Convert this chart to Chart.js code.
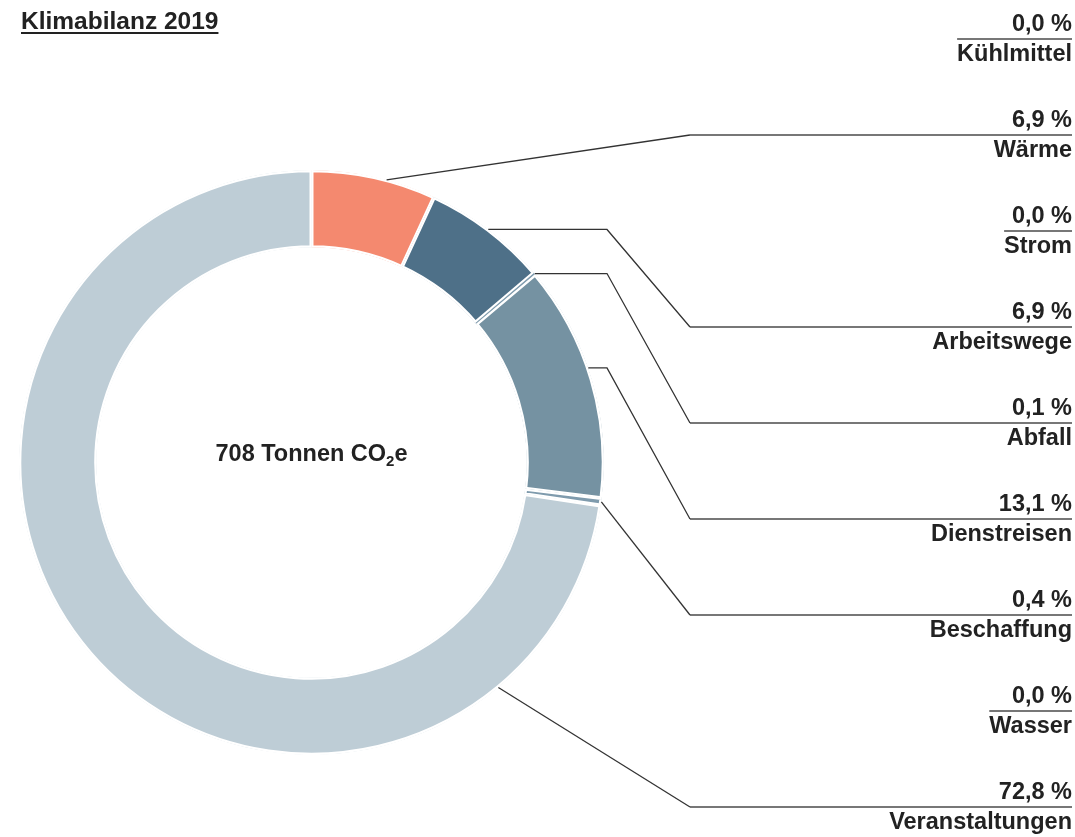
<!DOCTYPE html>
<html>
<head>
<meta charset="utf-8">
<script src="https://cdn.jsdelivr.net/npm/chart.js@4"></script>
<style>
  body { margin: 0; background: #fff; }
  canvas { display: block; }
</style>
</head>
<body>
<canvas id="klimaCanvas" width="1075" height="837"></canvas>
<script>
const chartTitle = "Klimabilanz 2019";
const centerText = ["708 Tonnen CO", "2", "e"];

const categories = ["Kühlmittel", "Wärme", "Strom", "Arbeitswege", "Abfall", "Dienstreisen", "Beschaffung", "Wasser", "Veranstaltungen"];
const shares = [0.0, 6.9, 0.0, 6.9, 0.1, 13.1, 0.4, 0.0, 72.8];
const shareLabels = shares.map(v => v.toFixed(1).replace(".", ",") + " %");

const sliceColors = ["#9fb3c0", "#f4896f", "#d0d0d0", "#4e7088", "#7f9bad", "#7592a2", "#7f9bad", "#a9c0cf", "#becdd6"];
// where on each slice the leader line starts (fraction of the arc), null = no leader
const leaderAt = [null, 0.6, null, 0.5, 0.5, 0.45, 0.5, null, 0.16];

const FONT = '"Liberation Sans", Arial, Helvetica, sans-serif';
const TEXT_COLOR = "#222";

const labelsPlugin = {
  id: "klimaLabels",
  afterDraw(chart) {
    const ctx = chart.ctx;
    const meta = chart.getDatasetMeta(0);
    const right = 1072;
    const diagX = 690;

    ctx.save();

    // title + underline
    ctx.font = "bold 24.5px " + FONT;
    ctx.fillStyle = TEXT_COLOR;
    ctx.textAlign = "left";
    ctx.textBaseline = "alphabetic";
    ctx.fillText(chartTitle, 21, 29);
    const tw = ctx.measureText(chartTitle).width;
    ctx.strokeStyle = TEXT_COLOR;
    ctx.lineWidth = 2;
    ctx.beginPath();
    ctx.moveTo(21, 33);
    ctx.lineTo(21 + tw, 33);
    ctx.stroke();

    // centre text with subscript
    const arc0 = meta.data[0];
    const cx = arc0.x, cy = arc0.y;
    const big = "bold 23.5px " + FONT, small = "bold 15px " + FONT;
    ctx.font = big;
    const w1 = ctx.measureText(centerText[0]).width;
    const w3 = ctx.measureText(centerText[2]).width;
    ctx.font = small;
    const w2 = ctx.measureText(centerText[1]).width;
    let x = cx - (w1 + w2 + w3) / 2;
    const base = cy - 2;
    ctx.font = big;
    ctx.fillText(centerText[0], x, base);
    x += w1;
    ctx.font = small;
    ctx.fillText(centerText[1], x, base + 5);
    x += w2;
    ctx.font = big;
    ctx.fillText(centerText[2], x, base);

    // right side labels
    ctx.textAlign = "right";
    categories.forEach((name, i) => {
      const lineY = 39 + 96 * i;
      ctx.font = "bold 23.5px " + FONT;
      ctx.fillStyle = TEXT_COLOR;
      ctx.fillText(shareLabels[i], right, lineY - 8);
      ctx.fillText(name, right, lineY + 22);

      ctx.strokeStyle = "#4a4a4a";
      ctx.lineWidth = 1.6;
      ctx.beginPath();
      if (leaderAt[i] === null) {
        const w = Math.max(ctx.measureText(name).width, ctx.measureText(shareLabels[i]).width);
        ctx.moveTo(right - w, lineY);
        ctx.lineTo(right, lineY);
        ctx.stroke();
        return;
      }
      ctx.moveTo(diagX, lineY);
      ctx.lineTo(right, lineY);
      ctx.stroke();

      const arc = meta.data[i];
      const a = arc.startAngle + leaderAt[i] * (arc.endAngle - arc.startAngle);
      const ax = arc.x + arc.outerRadius * Math.cos(a);
      const ay = arc.y + arc.outerRadius * Math.sin(a);
      ctx.strokeStyle = "#333";
      ctx.lineWidth = 1.3;
      ctx.beginPath();
      ctx.moveTo(ax, ay);
      if (ay < arc.y && lineY > ay) {
        const ex = arc.x + arc.outerRadius + 3;
        ctx.lineTo(ex, ay);
      }
      ctx.lineTo(diagX, lineY);
      ctx.stroke();
    });

    ctx.restore();
  }
};

new Chart(document.getElementById("klimaCanvas"), {
  type: "doughnut",
  data: {
    labels: categories,
    datasets: [{
      data: shares,
      backgroundColor: sliceColors,
      borderColor: "#ffffff",
      borderWidth: shares.map(v => (v <= 0.1 ? 0 : 2)),
      borderAlign: "inner"
    }]
  },
  options: {
    responsive: false,
    animation: false,
    cutout: "73.5%",
    layout: { padding: { left: 19, top: 170, right: 471, bottom: 82 } },
    plugins: {
      legend: { display: false },
      tooltip: { enabled: false }
    }
  },
  plugins: [labelsPlugin]
});
</script>
</body>
</html>
